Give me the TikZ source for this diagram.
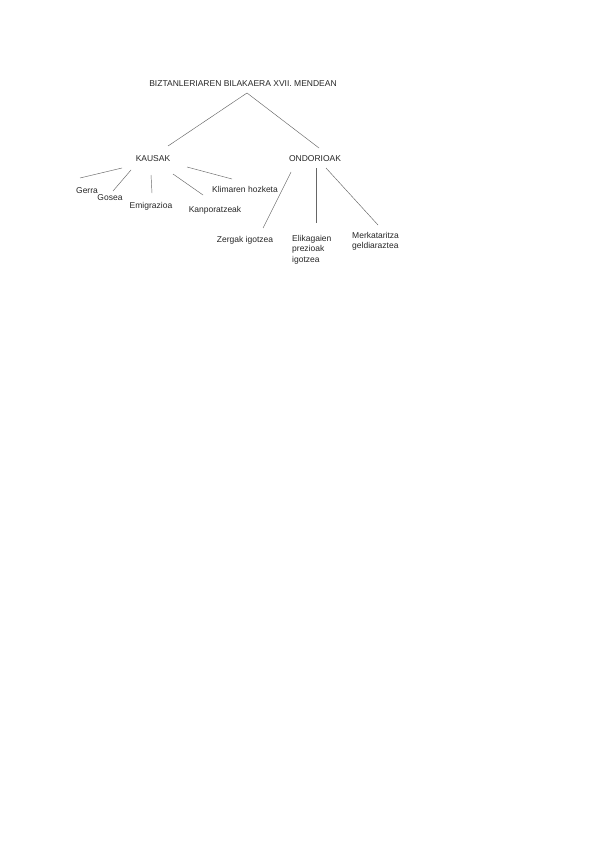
\documentclass[tikz,border=0pt]{standalone}
\usepackage{fontspec}
\setmainfont{Liberation Sans}
\begin{document}
\begin{tikzpicture}[x=1pt,y=-1pt,
  lbl/.style={inner sep=0pt,font=\fontsize{8.5}{10.5}\selectfont,text=black!85},
  multi/.style={lbl,align=left},
  conn/.style={draw=black!60,line width=0.45pt}]
\useasboundingbox[fill=white] (0,0) rectangle (600,848);
% nodes
\node[lbl] (title) at (243,84) {BIZTANLERIAREN BILAKAERA XVII. MENDEAN};
\node[lbl] (kausak) at (153,159) {KAUSAK};
\node[lbl] (ondorioak) at (315,159) {ONDORIOAK};
\node[lbl] (gerra) at (87,191) {Gerra};
\node[lbl] (gosea) at (110,198) {Gosea};
\node[lbl] (emig) at (151,206) {Emigrazioa};
\node[lbl] (kanpo) at (215,210) {Kanporatzeak};
\node[lbl] (klima) at (245,189) {Klimaren hozketa};
\node[lbl] (zergak) at (245,240) {Zergak igotzea};
\node[multi,anchor=north west] (elika) at (292,235) {Elikagaien\\prezioak\\igotzea};
\node[multi,anchor=north west] (merka) at (352,232) {Merkataritza\\geldiaraztea};
% connector end points
\coordinate (t0) at (247,93);
\coordinate (k0) at (168,146);
\coordinate (o0) at (319,148);
\coordinate (kg1) at (122,168); \coordinate (kg2) at (80,178);
\coordinate (ks1) at (131,170); \coordinate (ks2) at (113,191);
\coordinate (ke1) at (151,175); \coordinate (ke2) at (152,193);
\coordinate (kk1) at (173,174); \coordinate (kk2) at (203,195);
\coordinate (kh1) at (187,167); \coordinate (kh2) at (232,179);
\coordinate (oz1) at (291,172); \coordinate (oz2) at (263,228);
\coordinate (oe1) at (316,168); \coordinate (oe2) at (316,223);
\coordinate (om1) at (326,168); \coordinate (om2) at (378,225);
% connectors
\draw[conn] (t0) -- (k0);
\draw[conn] (t0) -- (o0);
\draw[conn] (kg1) -- (kg2);
\draw[conn] (ks1) -- (ks2);
\draw[conn] (ke1) -- (ke2);
\draw[conn] (kk1) -- (kk2);
\draw[conn] (kh1) -- (kh2);
\draw[conn] (oz1) -- (oz2);
\draw[conn] (oe1) -- (oe2);
\draw[conn] (om1) -- (om2);
\end{tikzpicture}
\end{document}
